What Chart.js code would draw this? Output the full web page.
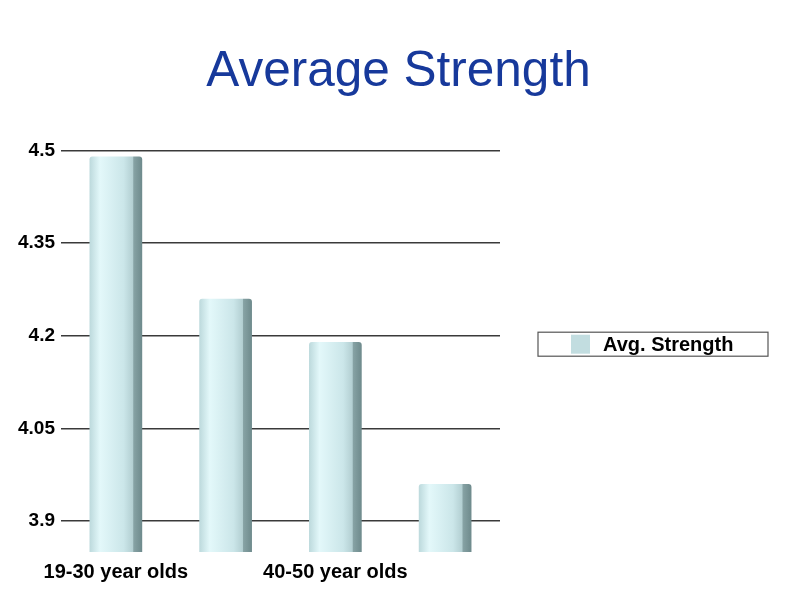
<!DOCTYPE html>
<html>
<head>
<meta charset="utf-8">
<title>Average Strength</title>
<script src="https://cdn.jsdelivr.net/npm/chart.js@4"></script>
<style>
  html, body { margin: 0; padding: 0; background: #ffffff; }
  #wrap { width: 800px; height: 596px; }
</style>
</head>
<body>
<div id="wrap"><canvas id="strengthChart"></canvas></div>
<script>
// Data
const ageGroups = ['19-30 year olds', '30-40 year olds', '40-50 year olds', '50-60 year olds'];
const avgStrength = [4.49, 4.26, 4.19, 3.96];
const yTicks = [3.9, 4.05, 4.2, 4.35, 4.5];

const FONT = 'Liberation Sans, Arial, sans-serif';
const ctx = document.getElementById('strengthChart').getContext('2d');

// shaded fill so the bars look a bit like the 3D columns
function barFill(context) {
  const chart = context.chart;
  const xScale = chart.scales.x;
  if (!xScale || context.dataIndex === undefined) return '#c8e4e7';
  const center = xScale.getPixelForValue(context.dataIndex);
  const half = xScale.width / ageGroups.length * 0.48 / 2;
  if (!isFinite(center) || !isFinite(half) || half <= 0) return '#c8e4e7';
  const g = chart.ctx.createLinearGradient(center - half, 0, center + half, 0);
  g.addColorStop(0, '#bcd9dc');
  g.addColorStop(0.2, '#e3f8fa');
  g.addColorStop(0.65, '#cbe6e9');
  g.addColorStop(0.82, '#b3cfd2');
  g.addColorStop(0.84, '#86a2a4');
  g.addColorStop(1, '#6e8a8c');
  return g;
}

// framed legend to the right of the plot, like the original
const boxedLegend = {
  id: 'boxedLegend',
  afterDraw(chart) {
    const area = chart.chartArea;
    const c = chart.ctx;
    const left = area.right + 38;
    const mid = (area.top + area.bottom) / 2 - 7;
    c.save();
    c.strokeStyle = '#555555';
    c.lineWidth = 1.2;
    c.strokeRect(left, mid - 12, 230, 24);
    c.fillStyle = '#c2dde0';
    c.fillRect(left + 33, mid - 9.5, 19, 19);
    c.fillStyle = '#000000';
    c.font = 'bold 20px ' + FONT;
    c.textBaseline = 'middle';
    c.textAlign = 'left';
    c.fillText(chart.data.datasets[0].label, left + 65, mid + 1);
    c.restore();
  }
};

const strengthChart = new Chart(ctx, {
  type: 'bar',
  data: {
    labels: ageGroups,
    datasets: [{
      label: 'Avg. Strength',
      data: avgStrength,
      backgroundColor: barFill,
      borderWidth: 0,
      borderRadius: 3,
      borderSkipped: 'bottom',
      barPercentage: 0.48,
      categoryPercentage: 1
    }]
  },
  options: {
    responsive: true,
    maintainAspectRatio: false,
    animation: false,
    layout: {
      padding: { top: 43, left: 12, right: 15, bottom: 12 }
    },
    plugins: {
      title: {
        display: true,
        text: 'Average Strength',
        color: '#17399b',
        font: { family: FONT, size: 49.5, weight: 'normal' },
        padding: { top: 0, bottom: 48 }
      },
      legend: { display: false },
      tooltip: { enabled: false }
    },
    scales: {
      x: {
        grid: { display: false },
        border: { display: false },
        ticks: {
          autoSkip: false,
          maxRotation: 0,
          padding: 0,
          color: '#000000',
          font: { family: FONT, size: 20, weight: 'bold' },
          callback: function (value, index) {
            return index % 2 === 0 ? ageGroups[index] : '';
          }
        }
      },
      y: {
        min: 3.85,
        max: 4.5,
        afterBuildTicks: function (axis) {
          axis.ticks = yTicks.map(function (v) { return { value: v }; });
        },
        grid: {
          color: '#3a3a3a',
          lineWidth: 1.5,
          drawTicks: false
        },
        border: { display: false },
        ticks: {
          padding: 6,
          color: '#000000',
          font: { family: FONT, size: 19, weight: 'bold' },
          callback: function (value) { return String(value); }
        }
      },
      // empty axis that only keeps room for the legend on the right
      legendRoom: {
        position: 'right',
        min: 0,
        max: 1,
        grid: { display: false },
        border: { display: false },
        ticks: { display: false },
        afterFit: function (axis) { axis.width = 285; }
      }
    }
  },
  plugins: [boxedLegend]
});
</script>
</body>
</html>
